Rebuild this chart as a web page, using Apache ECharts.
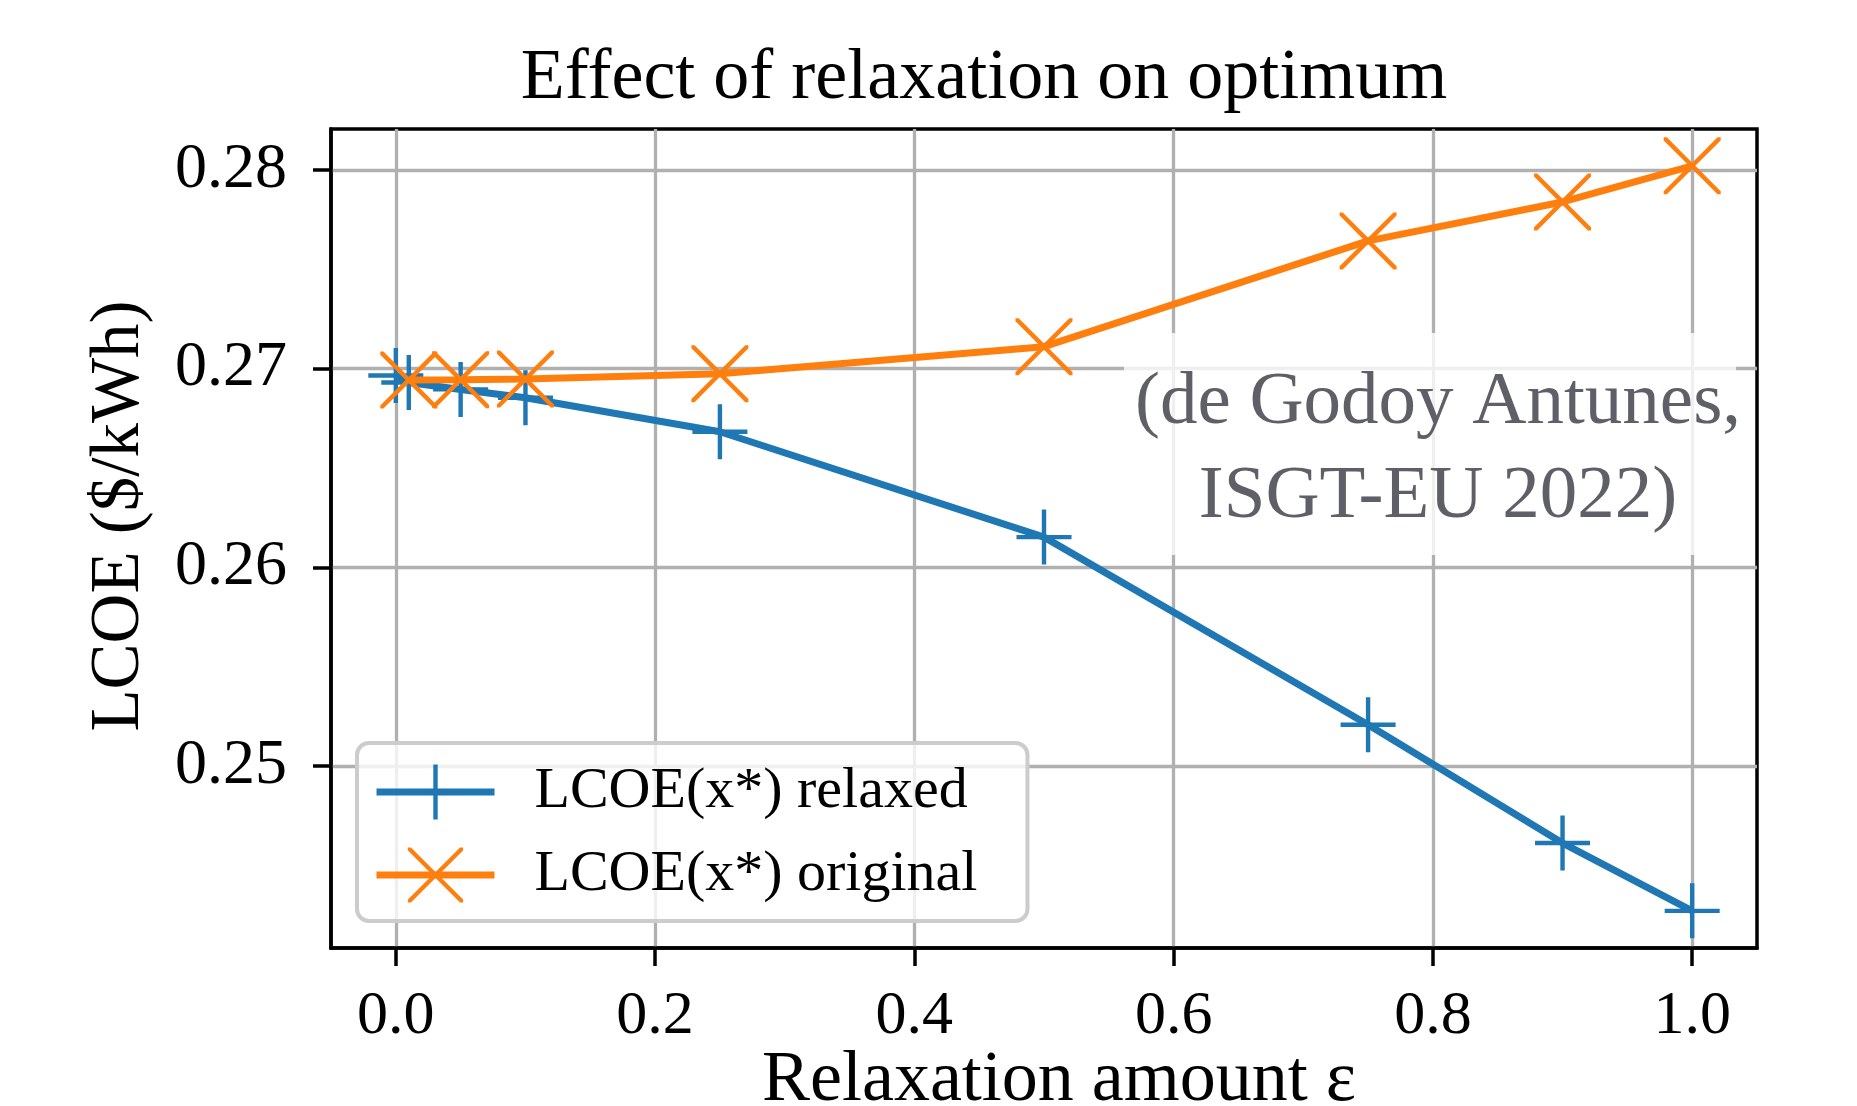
<!DOCTYPE html>
<html>
<head>
<meta charset="utf-8">
<script src="https://cdn.jsdelivr.net/npm/echarts@6/dist/echarts.min.js"></script>
<style>
  html, body { margin: 0; padding: 0; background: #fff; }
  #chart { width: 1857px; height: 1106px; }
</style>
</head>
<body>
<div id="chart"></div>
<script>
// data
const relaxedX = [0, 0.01, 0.05, 0.1, 0.25, 0.5, 0.75, 0.9, 1.0]
const relaxedY = [0.26965, 0.2693, 0.26895, 0.26853, 0.26682, 0.26152, 0.25208, 0.24613, 0.24272]
const originalX = [0.01, 0.05, 0.1, 0.25, 0.5, 0.75, 0.9, 1.0]
const originalY = [0.26942, 0.26944, 0.26947, 0.26974, 0.2711, 0.27642, 0.27838, 0.2802]
const xTicks = [0, 0.2, 0.4, 0.6, 0.8, 1.0]
const yTicks = [0.25, 0.26, 0.27, 0.28]

const FONT = "'Liberation Serif', 'DejaVu Serif', serif"
const BLUE = '#1f77b4'
const ORANGE = '#ff7f0e'
const GRID = '#b0b0b0'
const LW = 7

// marker shapes (matplotlib '+' and 'x')
const PLUS = 'path://M46,0 H54 V46 H100 V54 H54 V100 H46 V54 H0 V46 H46 Z'
const d = 5.5
const CROSS = 'path://M0,0 L' + d + ',0 L50,' + (50 - d) + ' L' + (100 - d) + ',0 L100,0 L100,' + d +
  ' L' + (50 + d) + ',50 L100,' + (100 - d) + ' L100,100 L' + (100 - d) + ',100 L50,' + (50 + d) +
  ' L' + d + ',100 L0,100 L0,' + (100 - d) + ' L' + (50 - d) + ',50 L0,' + d + ' Z'

const zip = (xs, ys) => xs.map((x, i) => [x, ys[i]])

const chart = echarts.init(document.getElementById('chart'), null, { renderer: 'canvas' })

chart.setOption({
  animation: false,
  backgroundColor: '#fff',
  grid: {
    left: 331, right: 100, top: 129, bottom: 158,
    show: true, borderColor: '#000', borderWidth: 3.5, backgroundColor: 'transparent'
  },
  xAxis: {
    type: 'value',
    min: -0.05, max: 1.05,
    axisLine: { show: true, onZero: false, lineStyle: { color: '#000', width: 3.5 } },
    axisTick: { show: true, length: 18, lineStyle: { color: '#000', width: 3.5 }, customValues: xTicks },
    axisLabel: {
      customValues: xTicks, margin: 38,
      color: '#000', fontFamily: FONT, fontSize: 62,
      formatter: v => v.toFixed(1)
    },
    splitLine: { show: true, lineStyle: { color: GRID, width: 3.3 } }
  },
  yAxis: {
    type: 'value',
    min: 0.24085, max: 0.28205,
    axisLine: { show: true, onZero: false, lineStyle: { color: '#000', width: 3.5 } },
    axisTick: { show: true, length: 18, lineStyle: { color: '#000', width: 3.5 }, customValues: yTicks },
    axisLabel: {
      customValues: yTicks, margin: 44,
      color: '#000', fontFamily: FONT, fontSize: 64,
      formatter: v => v.toFixed(2)
    },
    splitLine: { show: true, lineStyle: { color: GRID, width: 3.3 } }
  },
  legend: {
    left: 357, top: 743,
    orient: 'vertical',
    padding: [20, 50, 17, 16],
    itemWidth: 118, itemHeight: 69, itemGap: 25,
    backgroundColor: 'rgba(255,255,255,0.8)',
    borderColor: '#cccccc', borderWidth: 4, borderRadius: 12,
    lineStyle: { width: LW },
    textStyle: { fontFamily: FONT, fontSize: 58, color: '#000', padding: [0, 0, 0, 35] },
    data: ['LCOE(x*) relaxed', 'LCOE(x*) original']
  },
  graphic: [
    {
      type: 'rect', z: 50,
      shape: { x: 1124, y: 333, width: 612, height: 222 },
      style: { fill: 'rgba(255,255,255,0.8)' }
    },
    {
      type: 'text', z: 51, x: 1438, y: 403,
      style: {
        text: '(de Godoy Antunes,', fill: '#5f5f67', fontFamily: FONT, fontSize: 75,
        align: 'center', verticalAlign: 'middle', textAlign: 'center', textVerticalAlign: 'middle'
      }
    },
    {
      type: 'text', z: 51, x: 1438, y: 497,
      style: {
        text: 'ISGT-EU 2022)', fill: '#5f5f67', fontFamily: FONT, fontSize: 75,
        align: 'center', verticalAlign: 'middle', textAlign: 'center', textVerticalAlign: 'middle'
      }
    },
    {
      type: 'text', x: 984, y: 79,
      style: {
        text: 'Effect of relaxation on optimum', fill: '#000', fontFamily: FONT, fontSize: 72,
        align: 'center', verticalAlign: 'middle', textAlign: 'center', textVerticalAlign: 'middle'
      }
    },
    {
      type: 'text', x: 1059, y: 1081,
      style: {
        text: 'Relaxation amount ε', fill: '#000', fontFamily: FONT, fontSize: 72,
        align: 'center', verticalAlign: 'middle', textAlign: 'center', textVerticalAlign: 'middle'
      }
    },
    {
      type: 'text', x: 120, y: 516, rotation: Math.PI / 2,
      style: {
        text: 'LCOE ($/kWh)', fill: '#000', fontFamily: FONT, fontSize: 69,
        align: 'center', verticalAlign: 'middle', textAlign: 'center', textVerticalAlign: 'middle'
      }
    }
  ],
  series: [
    {
      name: 'LCOE(x*) relaxed',
      type: 'line',
      data: zip(relaxedX, relaxedY),
      color: BLUE,
      symbol: PLUS, symbolSize: 55,
      lineStyle: { width: LW, color: BLUE },
      itemStyle: { color: BLUE, borderWidth: 0 },
      z: 3
    },
    {
      name: 'LCOE(x*) original',
      type: 'line',
      data: zip(originalX, originalY),
      color: ORANGE,
      symbol: CROSS, symbolSize: 57,
      lineStyle: { width: LW, color: ORANGE },
      itemStyle: { color: ORANGE, borderWidth: 0 },
      z: 4
    }
  ]
})

window.addEventListener('resize', () => chart.resize())
</script>
</body>
</html>
